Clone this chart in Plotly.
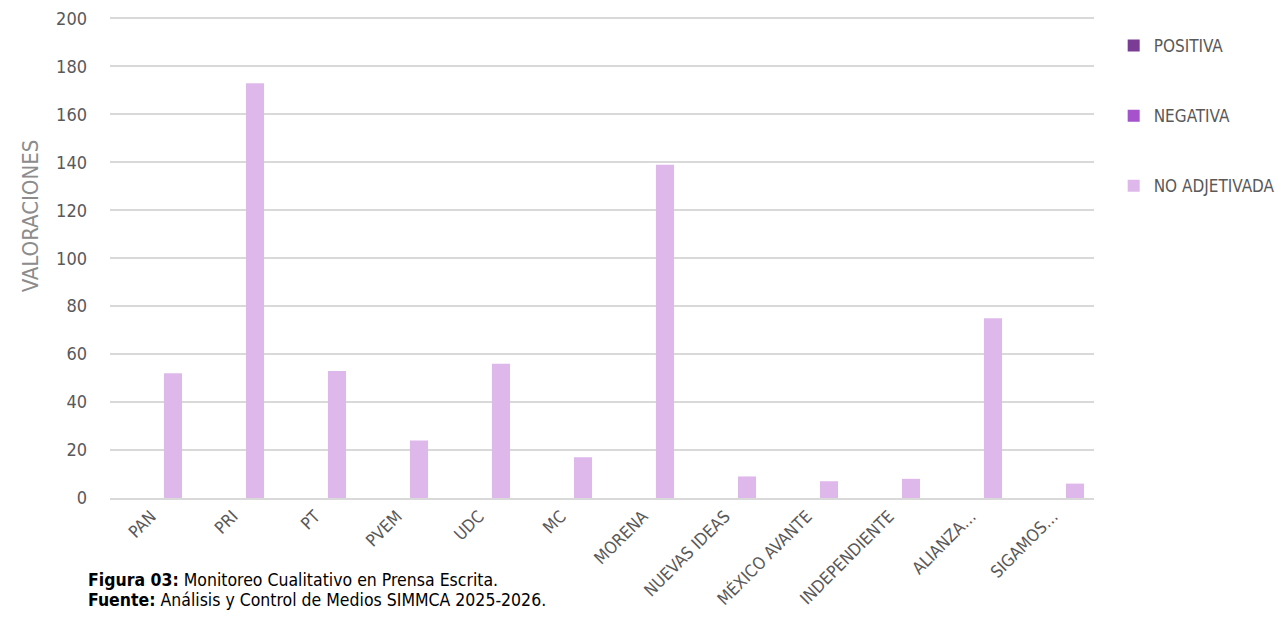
import plotly.graph_objects as go

categories = ["PAN", "PRI", "PT", "PVEM", "UDC", "MC", "MORENA", "NUEVAS IDEAS",
              "MÉXICO AVANTE", "INDEPENDIENTE", "ALIANZA…", "SIGAMOS…"]
positiva = [0, 0, 0, 0, 0, 0, 0, 0, 0, 0, 0, 0]
negativa = [0, 0, 0, 0, 0, 0, 0, 0, 0, 0, 0, 0]
no_adjetivada = [52, 173, 53, 24, 56, 17, 139, 9, 7, 8, 75, 6]
y_ticks = [0, 20, 40, 60, 80, 100, 120, 140, 160, 180, 200]

FONT = "DejaVu Sans Condensed, Liberation Sans Narrow, Arial Narrow, sans-serif"

fig = go.Figure()
series = [("POSITIVA", positiva, "#7B3C96"),
          ("NEGATIVA", negativa, "#A652CC"),
          ("NO ADJETIVADA", no_adjetivada, "#DEB8EB")]
for i, (name, vals, col) in enumerate(series):
    fig.add_trace(go.Bar(x=categories, y=vals, name=name, marker_color=col,
                         marker_line_width=0, legendgroup=f"g{i}"))

fig.update_layout(
    width=1270, height=604,
    margin=dict(l=102, r=184, t=7.6, b=114, autoexpand=False),
    paper_bgcolor="white", plot_bgcolor="white",
    barmode="group", bargap=0.195, bargroupgap=0.18,
    font=dict(family=FONT, color="#595959", size=16),
    legend=dict(x=1.02, y=0.975, xanchor="left", yanchor="top",
                font=dict(family=FONT, size=17, color="#595959"),
                tracegroupgap=45, itemwidth=30),
    showlegend=True,
)
fig.update_yaxes(range=[0, 201], tickvals=y_ticks, showgrid=True,
                 gridcolor="#D9D9D9", gridwidth=1.5, zeroline=False,
                 showline=False, ticks="", ticklabelstandoff=22,
                 ticklabeloverflow="allow",
                 tickfont=dict(family=FONT, size=18, color="#595959"))
fig.update_xaxes(tickangle=-45, showline=True, linecolor="#D9D9D9", linewidth=1.5,
                 ticks="", ticklabeloverflow="allow",
                 tickfont=dict(family=FONT, size=17, color="#595959"))

fig.add_annotation(xref="paper", yref="paper", x=-0.081, y=0.585,
                   xanchor="center", yanchor="middle", showarrow=False,
                   textangle=-90, text="VALORACIONES",
                   font=dict(family=FONT, size=22, color="#8C8C8C"))

fig.add_annotation(xref="paper", yref="paper", x=-0.0245, y=-0.17,
                   xanchor="left", yanchor="middle", showarrow=False,
                   text="<b>Figura 03:</b> Monitoreo Cualitativo en Prensa Escrita.",
                   font=dict(family=FONT, size=17.5, color="#000000"))
fig.add_annotation(xref="paper", yref="paper", x=-0.0245, y=-0.211,
                   xanchor="left", yanchor="middle", showarrow=False,
                   text="<b>Fuente:</b> Análisis y Control de Medios SIMMCA 2025-2026.",
                   font=dict(family=FONT, size=17.5, color="#000000"))

fig.write_html("out.html")
